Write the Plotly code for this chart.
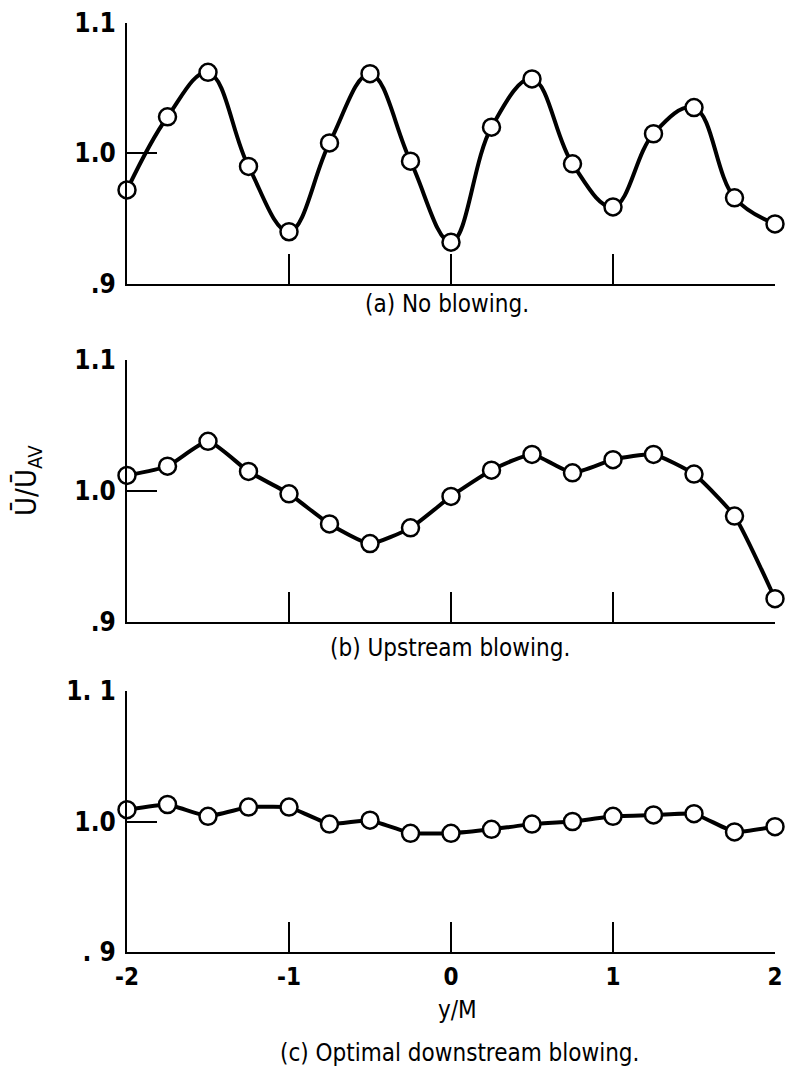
import plotly.graph_objects as go

# ---- data ----
y_over_M = [-2.0, -1.75, -1.5, -1.25, -1.0, -0.75, -0.5, -0.25, 0.0,
            0.25, 0.5, 0.75, 1.0, 1.25, 1.5, 1.75, 2.0]

no_blowing = [0.972, 1.028, 1.062, 0.990, 0.940, 1.008, 1.061, 0.994, 0.932,
              1.020, 1.057, 0.992, 0.959, 1.015, 1.035, 0.966, 0.946]

upstream_blowing = [1.012, 1.019, 1.038, 1.015, 0.998, 0.975, 0.960, 0.972, 0.996,
                    1.016, 1.028, 1.014, 1.024, 1.028, 1.013, 0.981, 0.918]

downstream_blowing = [1.009, 1.013, 1.004, 1.011, 1.011, 0.998, 1.001, 0.991, 0.991,
                      0.994, 0.998, 1.000, 1.004, 1.005, 1.006, 0.992, 0.996]

captions = ["(a) No blowing.", "(b) Upstream blowing.", "(c) Optimal downstream blowing."]
ytick_vals = [0.9, 1.0, 1.1]
ytick_text_ab = [".9", "1.0", "1.1"]
ytick_text_c = [". 9", "1.0", "1. 1"]
xtick_vals = [-2, -1, 0, 1, 2]
xtick_text = ["-2", "-1", "0", "1", "2"]

FONT = "DejaVu Sans Condensed, Liberation Sans Narrow, DejaVu Sans, sans-serif"

fig = go.Figure()

series = [no_blowing, upstream_blowing, downstream_blowing]
smooth = [1.1, 0.5, 0.3]
for i, (vals, sm) in enumerate(zip(series, smooth)):
    suffix = "" if i == 0 else str(i + 1)
    fig.add_trace(go.Scatter(
        x=y_over_M, y=vals,
        xaxis="x" + suffix, yaxis="y" + suffix,
        mode="lines+markers",
        line=dict(color="black", width=4, shape="spline", smoothing=sm),
        marker=dict(symbol="circle", size=17, color="white",
                    line=dict(color="black", width=2.5)),
        cliponaxis=False,
        showlegend=False,
        hoverinfo="skip",
    ))

H = 1075.0
domains = [
    [1 - 284.0 / H, 1 - 22.7 / H],
    [1 - 622.3 / H, 1 - 360.0 / H],
    [1 - 952.3 / H, 1 - 690.7 / H],
]

layout = dict(
    width=785, height=1075,
    margin=dict(l=127, r=10, t=0, b=0, autoexpand=False),
    paper_bgcolor="white", plot_bgcolor="white",
    font=dict(family=FONT, color="black", size=22),
)

for i in range(3):
    suffix = "" if i == 0 else str(i + 1)
    layout["xaxis" + suffix] = dict(
        domain=[0, 1], range=[-2, 2], anchor="y" + suffix,
        showline=True, linecolor="black", linewidth=2,
        ticks="inside", ticklen=30, tickwidth=2, tickcolor="black",
        tickvals=xtick_vals, ticktext=xtick_text,
        showticklabels=(i == 2),
        tickfont=dict(size=24, family=FONT, weight="bold"),
        ticklabelstandoff=2,
        automargin=False,
        showgrid=False, zeroline=False, fixedrange=True,
    )
    layout["yaxis" + suffix] = dict(
        domain=domains[i], range=[0.9, 1.1], anchor="x" + suffix,
        showline=True, linecolor="black", linewidth=2,
        ticks="inside", ticklen=30, tickwidth=2, tickcolor="black",
        tickvals=ytick_vals,
        ticktext=ytick_text_c if i == 2 else ytick_text_ab,
        tickfont=dict(size=26, family=FONT, weight="bold"),
        ticklabelstandoff=4,
        automargin=False,
        showgrid=False, zeroline=False, fixedrange=True,
    )

fig.update_layout(**layout)

W = 648.0
def px_x(p):
    return (p - 127.0) / W

def px_y(p):
    return 1 - p / H

ann_pos = [(447, 304), (450, 648), (459, 1053)]
for cap, (ax, ay) in zip(captions, ann_pos):
    fig.add_annotation(text=cap, xref="paper", yref="paper",
                       x=px_x(ax), y=px_y(ay), xanchor="center", yanchor="middle",
                       showarrow=False, font=dict(size=24, family=FONT))

fig.add_annotation(text="y/M", xref="paper", yref="paper",
                   x=px_x(457), y=px_y(1010), xanchor="center", yanchor="middle",
                   showarrow=False, font=dict(size=24, family=FONT))

fig.add_annotation(text="Ū/Ū<sub>AV</sub>", xref="paper", yref="paper",
                   x=px_x(28), y=px_y(480), xanchor="center", yanchor="middle",
                   textangle=-90, showarrow=False, font=dict(size=29, family=FONT))

fig.write_html("out.html")
